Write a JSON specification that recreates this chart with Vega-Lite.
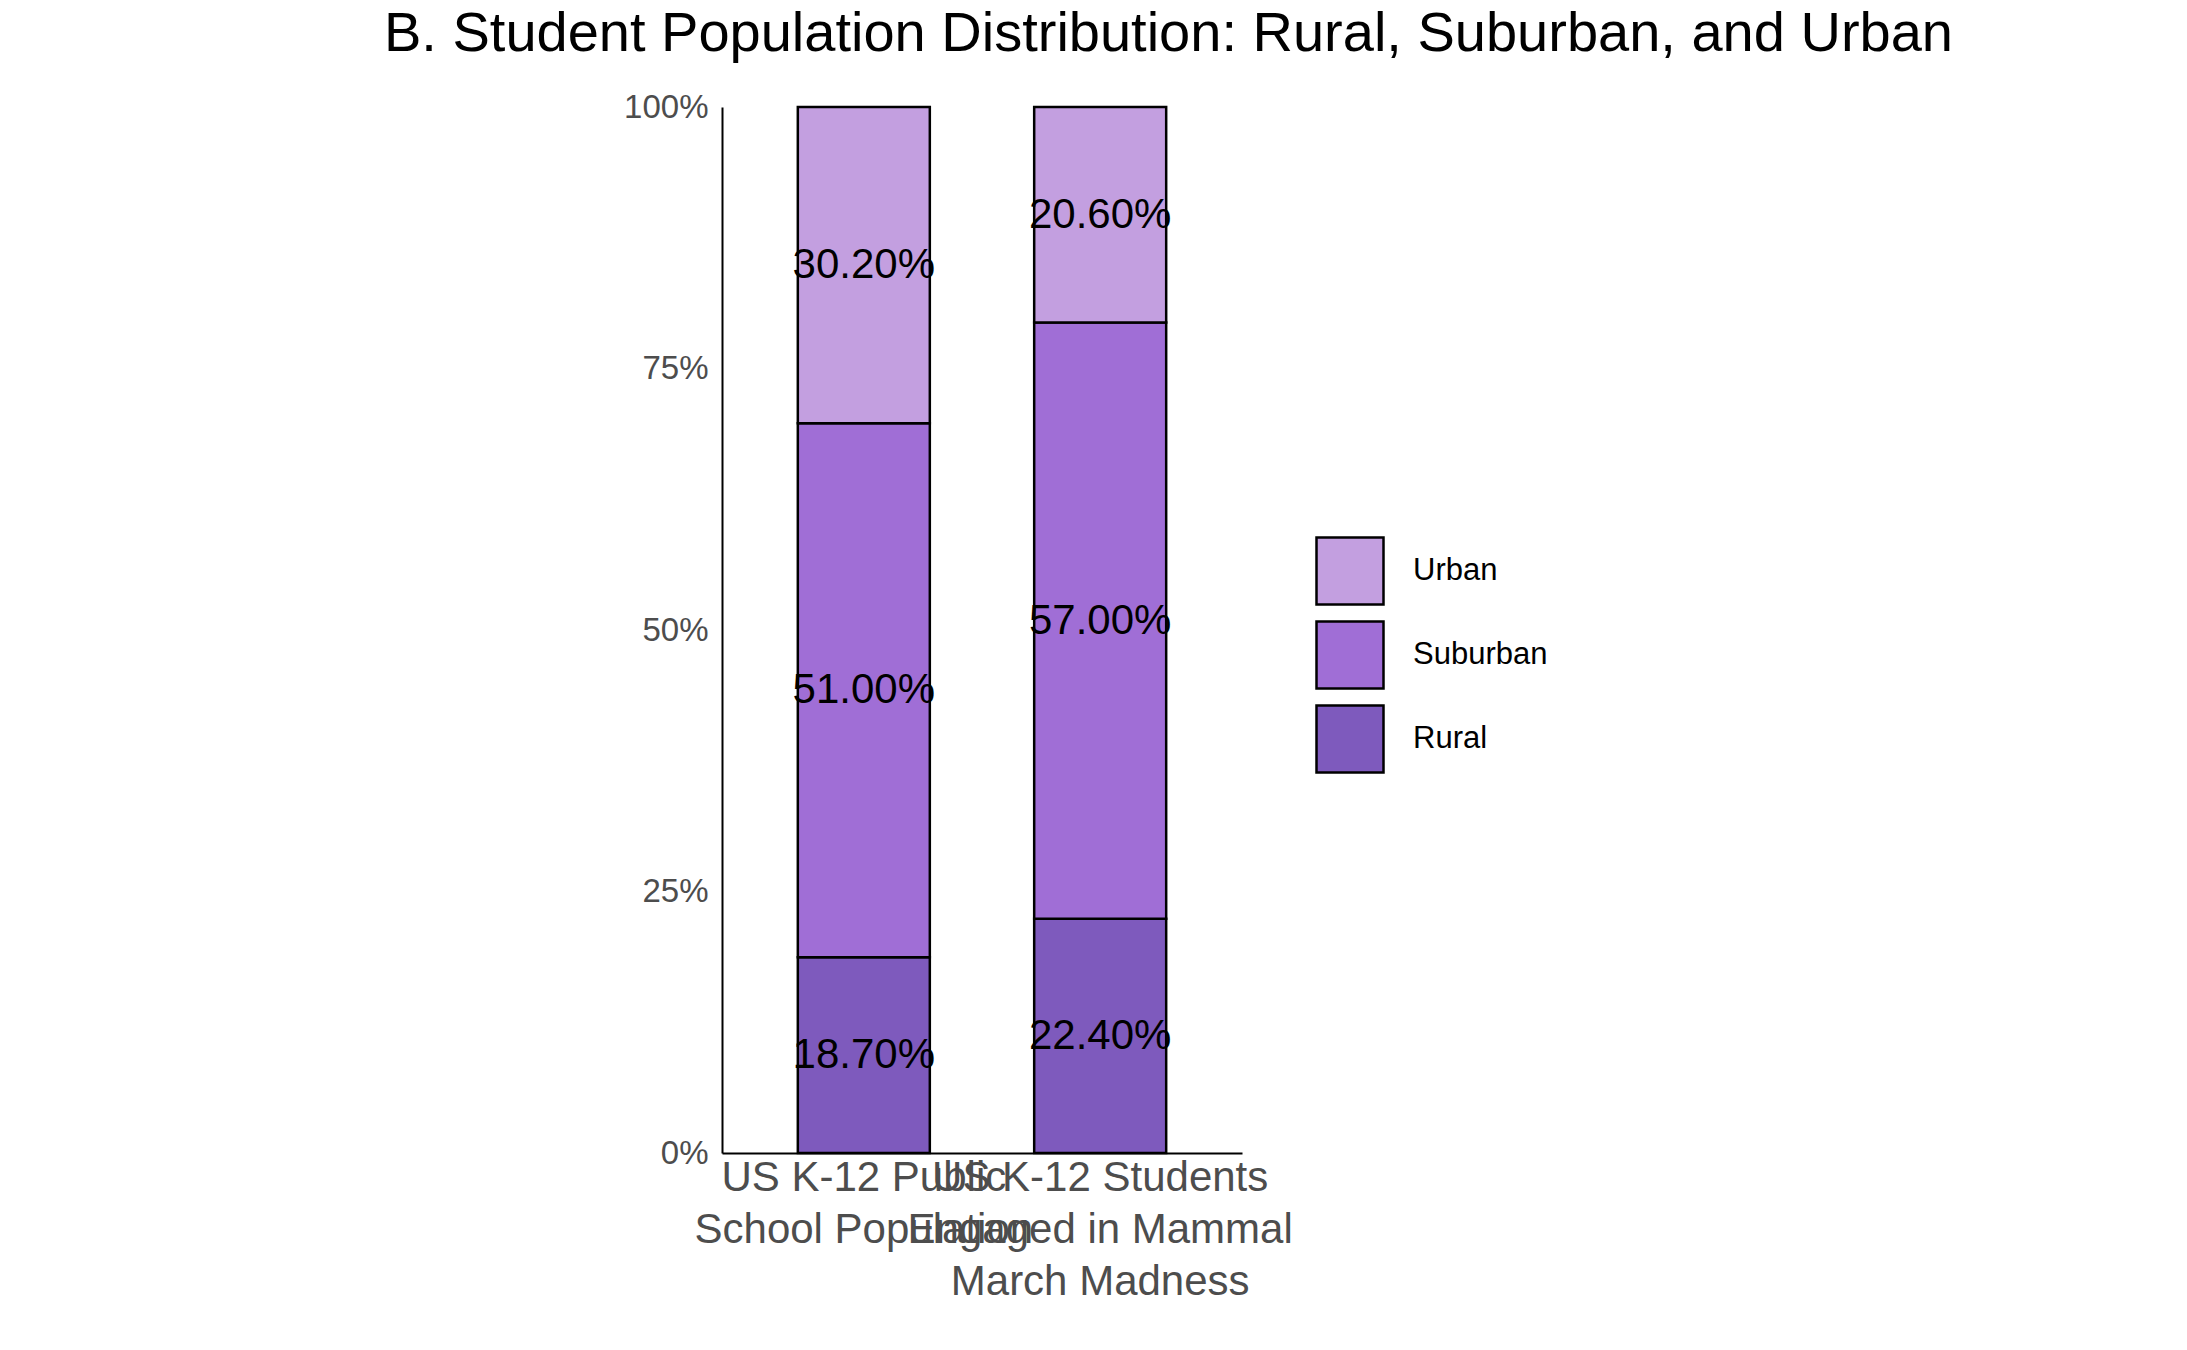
{
  "$schema": "https://vega.github.io/schema/vega-lite/v6.json",
  "autosize": "none",
  "width": 520,
  "height": 1046,
  "padding": {"left": 722, "top": 107, "right": 945, "bottom": 197},
  "background": "white",
  "config": {"view": {"stroke": null}, "font": "Liberation Sans"},
  "title": {
    "text": "B. Student Population Distribution: Rural, Suburban, and Urban",
    "anchor": "start",
    "frame": "group",
    "dx": -338,
    "offset": 28,
    "fontSize": 56,
    "fontWeight": "normal",
    "color": "black",
    "limit": 0
  },
  "data": {
    "values": [
      {"group": "US K-12 Public School Population", "area": "Rural", "share": 0.187, "rank": 1},
      {"group": "US K-12 Public School Population", "area": "Suburban", "share": 0.51, "rank": 2},
      {"group": "US K-12 Public School Population", "area": "Urban", "share": 0.302, "rank": 3},
      {"group": "US K-12 Students Engaged in Mammal March Madness", "area": "Rural", "share": 0.224, "rank": 1},
      {"group": "US K-12 Students Engaged in Mammal March Madness", "area": "Suburban", "share": 0.57, "rank": 2},
      {"group": "US K-12 Students Engaged in Mammal March Madness", "area": "Urban", "share": 0.206, "rank": 3}
    ]
  },
  "transform": [
    {"stack": "share", "groupby": ["group"], "sort": [{"field": "rank"}], "offset": "normalize", "as": ["lo", "hi"]},
    {"calculate": "(datum.lo + datum.hi) / 2", "as": "mid"}
  ],
  "encoding": {
    "x": {
      "field": "group",
      "type": "nominal",
      "title": null,
      "scale": {"paddingInner": 0, "paddingOuter": 0.1},
      "axis": {
        "labelAngle": 0,
        "labelExpr": "datum.value == 'US K-12 Public School Population' ? ['US K-12 Public', 'School Population'] : ['US K-12 Students', 'Engaged in Mammal', 'March Madness']",
        "labelFontSize": 42,
        "labelColor": "#4d4d4d",
        "labelLimit": 0,
        "labelOverlap": false,
        "labelLineHeight": 52,
        "labelPadding": 4,
        "ticks": false,
        "domainColor": "black",
        "domainWidth": 2
      }
    }
  },
  "layer": [
    {
      "mark": {"type": "bar", "size": 132, "stroke": "black", "strokeWidth": 2.5},
      "encoding": {
        "y": {
          "field": "lo",
          "type": "quantitative",
          "title": null,
          "scale": {"domain": [0, 1], "nice": false},
          "axis": {
            "values": [0, 0.25, 0.5, 0.75, 1],
            "format": ".0%",
            "labelFontSize": 33,
            "labelColor": "#4d4d4d",
            "grid": false,
            "ticks": false,
            "labelPadding": 14,
            "domainColor": "black",
            "domainWidth": 2
          }
        },
        "y2": {"field": "hi"},
        "color": {
          "field": "area",
          "type": "nominal",
          "title": null,
          "scale": {"domain": ["Urban", "Suburban", "Rural"], "range": ["#C39FE0", "#A06ED6", "#7E5ABD"]},
          "legend": {
            "orient": "none",
            "legendX": 593,
            "legendY": 429,
            "symbolType": "square",
            "symbolSize": 4489,
            "symbolStrokeColor": "black",
            "symbolStrokeWidth": 2.5,
            "symbolOpacity": 1,
            "labelFontSize": 31,
            "labelColor": "black",
            "labelOffset": 28,
            "rowPadding": 6
          }
        }
      }
    },
    {
      "mark": {"type": "text", "fontSize": 42, "color": "black", "baseline": "middle"},
      "encoding": {
        "y": {"field": "mid", "type": "quantitative"},
        "text": {"field": "share", "type": "quantitative", "format": ".2%"}
      }
    }
  ]
}
